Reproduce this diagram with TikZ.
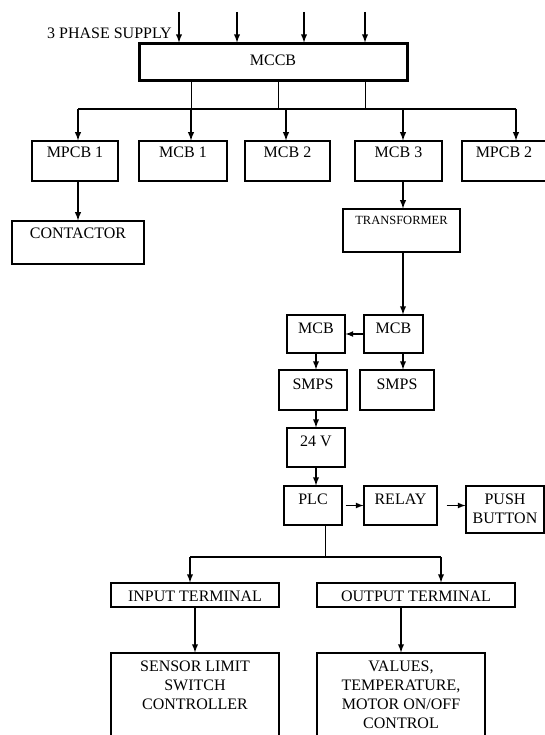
\documentclass[tikz,border=0pt]{standalone}
\usepackage{fontspec}
\setmainfont{Liberation Serif}
\usetikzlibrary{arrows,positioning}

\begin{document}
\begin{tikzpicture}[x=1pt,y=-1pt]
\tikzstyle{blk}=[draw, line width=1.1pt, inner sep=0pt, anchor=base, align=center, font=\fontsize{16}{19}\selectfont]
\tikzstyle{rowbox}=[blk, text height=17pt, text depth=23pt]
\tikzstyle{arr}=[->, >=latex, line width=1.8pt]
\tikzstyle{wire}=[line width=0.9pt]
\useasboundingbox (0,0) rectangle (545,735);

\node[blk, line width=3pt, minimum width=268pt, text height=22pt, text depth=15pt] (mccb) at (273,66) {MCCB};
\node[anchor=east, inner sep=0pt, font=\fontsize{16}{19}\selectfont] (supply) at (172,33) {3 PHASE SUPPLY};

\node[rowbox, minimum width=86pt] (mpcba) at (75,158) {MPCB 1};
\node[rowbox, minimum width=88pt] (mcba) at (183,158) {MCB 1};
\node[rowbox, minimum width=85pt] (mcbb) at (287.5,158) {MCB 2};
\node[rowbox, minimum width=87pt] (mcbc) at (398.5,158) {MCB 3};
\node[rowbox, minimum width=84pt] (mpcbb) at (504,158) {MPCB 2};

\node[blk, minimum width=132pt, text height=17pt, text depth=26pt] (cont) at (78,238) {CONTACTOR};
\node[blk, minimum width=117pt, text height=16pt, text depth=27pt, font=\fontsize{12.5}{15}\selectfont] (trafo) at (401.5,225) {TRANSFORMER};

\node[blk, minimum width=59pt, text height=18pt, text depth=20pt] (mcbr) at (393.5,333) {MCB};
\node[blk, minimum width=58pt, text height=18pt, text depth=20pt] (mcbl) at (316,333) {MCB};
\node[blk, minimum width=68pt, text height=19pt, text depth=21pt] (smpsl) at (313,389) {SMPS};
\node[blk, minimum width=74pt, text height=19pt, text depth=21pt] (smpsr) at (397,389) {SMPS};
\node[blk, minimum width=58pt, text height=18pt, text depth=21pt] (vdc) at (316,446) {24 V};
\node[blk, minimum width=58pt, text height=18pt, text depth=21pt] (plc) at (313,504) {PLC};
\node[blk, minimum width=73pt, text height=18pt, text depth=21pt] (relay) at (400.5,504) {RELAY};
\node[blk, minimum width=78pt, text height=37pt, text depth=10pt] (push) at (505,523) {PUSH\\BUTTON};

\node[blk, minimum width=168pt, text height=18pt, text depth=6pt] (inp) at (195,601) {INPUT TERMINAL};
\node[blk, minimum width=198pt, text height=18pt, text depth=6pt] (outp) at (416,601) {OUTPUT TERMINAL};
\node[blk, minimum width=168pt, text height=56pt, text depth=42pt] (sens) at (195,709) {SENSOR LIMIT\\SWITCH\\CONTROLLER};
\node[blk, minimum width=168pt, text height=75pt, text depth=23pt] (vals) at (401,728) {VALUES,\\TEMPERATURE,\\MOTOR ON/OFF\\CONTROL};

\coordinate (sa) at (179,12);
\coordinate (sb) at (237,12);
\coordinate (sc) at (304,12);
\coordinate (sd) at (365,12);
\foreach \s in {sa,sb,sc,sd}
  \draw[arr] (\s) -- (\s |- mccb.north);

\coordinate (ba) at (78,109);
\coordinate (bb) at (191,109);
\coordinate (bc) at (286,109);
\coordinate (bd) at (403,109);
\coordinate (be) at (516,109);
\coordinate (bf) at (278,109);
\coordinate (bg) at (365,109);
\foreach \b in {bb,bf,bg}
  \draw[wire] (\b |- mccb.south) -- (\b);
\draw[line width=1.4pt] (ba) -- (be);
\draw[arr] (ba) -- (ba |- mpcba.north);
\draw[arr] (bb) -- (bb |- mcba.north);
\draw[arr] (bc) -- (bc |- mcbb.north);
\draw[arr] (bd) -- (bd |- mcbc.north);
\draw[arr] (be) -- (be |- mpcbb.north);

\draw[arr] (ba |- mpcba.south) -- (ba |- cont.north);
\draw[arr] (bd |- mcbc.south) -- (bd |- trafo.north);
\draw[arr] (bd |- trafo.south) -- (bd |- mcbr.north);
\draw[arr, line width=1.6pt] (mcbr.west) -- (mcbl.east);
\draw[arr] (mcbl.south) -- (mcbl.south |- smpsl.north);
\draw[arr] (bd |- mcbr.south) -- (bd |- smpsr.north);
\draw[arr] (vdc.north |- smpsl.south) -- (vdc.north);
\draw[arr] (vdc.south) -- (vdc.south |- plc.north);
\draw[arr, line width=1.6pt, shorten <=3pt] (plc.east) -- (relay.west);
\draw[arr, line width=1.6pt, shorten <=9pt] (relay.east) -- (push.west |- relay.east);

\coordinate (pj) at (325,557);
\coordinate (pl) at (190,557);
\coordinate (pr) at (441,557);
\draw[wire] (pj |- plc.south) -- (pj);
\draw[line width=1.4pt] (pl) -- (pr);
\draw[arr] (pl) -- (pl |- inp.north);
\draw[arr] (pr) -- (pr |- outp.north);
\draw[arr] (inp.south) -- (sens.north);
\draw[arr] (vals.north |- outp.south) -- (vals.north);
\end{tikzpicture}
\end{document}
